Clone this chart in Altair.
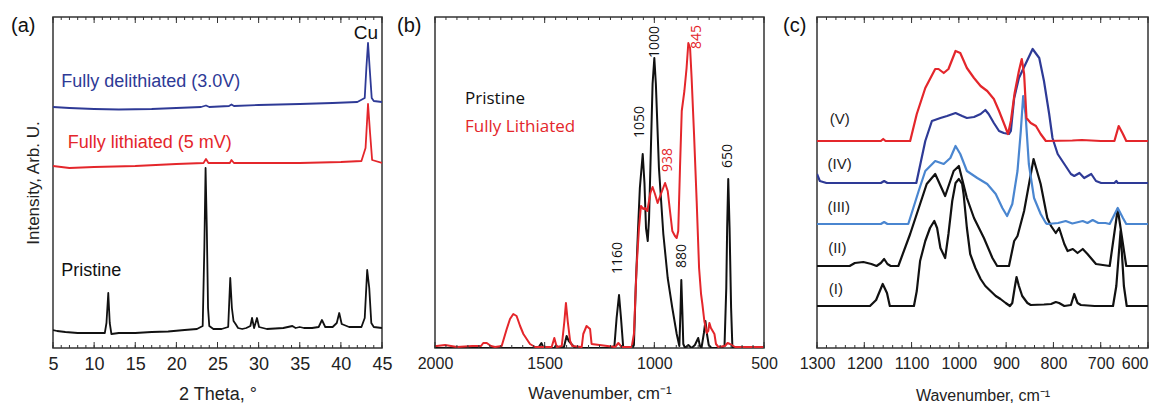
import altair as alt
import pandas as pd

FONT = "Liberation Sans, Arial, sans-serif"
FONT_B = "Open Sans, sans-serif"
BLACK = "#111111"
RED = "#e4262b"
DBLUE = "#2e3a96"
LBLUE = "#4a86d0"
FRAME = "#333333"
H = 331

# ---------------- Panel (a): XRD, 2 Theta vs intensity ----------------
A_PRISTINE = [(5.0, 18), (5.5, 17), (6.5, 16), (8, 15), (10, 15), (11.3, 15), (11.5, 25), (11.72, 55),
              (11.9, 25), (12.1, 14), (13, 15), (15, 15), (17, 16), (19, 16.5), (21, 18), (22.5, 19),
              (23.2, 22), (23.4, 100), (23.55, 180), (23.7, 120), (23.85, 40), (24.0, 22), (24.5, 19),
              (25.5, 19), (26.3, 21), (26.55, 70), (26.75, 40), (26.95, 27), (27.2, 24), (27.5, 20),
              (28, 19), (28.5, 20), (29.0, 22), (29.2, 30), (29.45, 20), (29.8, 30), (30.05, 21),
              (31, 19), (32, 19.5), (33, 20), (34.1, 22), (34.5, 20), (35, 21), (35.5, 20), (36.5, 20),
              (37.3, 21), (37.7, 28), (38.1, 21), (39, 21), (39.5, 25), (39.8, 35), (40.1, 24), (41, 21),
              (42.5, 21), (42.9, 30), (43.2, 78), (43.45, 60), (43.7, 25), (44, 21), (45, 20)]
A_LITHIATED = [(5, 182), (7, 180), (10, 181), (15, 182), (20, 184), (23.3, 185), (23.6, 189), (23.9, 185),
               (26.5, 185), (26.7, 188), (27, 185), (30, 185), (35, 185), (40, 186), (42.5, 187),
               (43.0, 200), (43.3, 244), (43.55, 215), (43.8, 188), (45, 185)]
A_DELITHIATED = [(5, 241), (7, 240), (10, 239), (13, 238.5), (17, 239), (20, 240), (23, 241), (23.6, 242.5),
                 (24, 241), (26.4, 242), (26.7, 243.5), (27, 242), (30, 243), (35, 244), (39, 245), (42, 246),
                 (42.9, 250), (43.1, 280), (43.3, 305), (43.5, 280), (43.75, 250), (44, 247), (45, 246)]
A_LABELS = [("Fully delithiated (3.0V)", 6.0, 266, DBLUE),
            ("Fully lithiated (5 mV)", 6.8, 205, RED),
            ("Pristine", 6.0, 77, BLACK)]
A_CU = [("Cu", 43.05, 315)]
A_TICKS = [5, 10, 15, 20, 25, 30, 35, 40, 45]
A_MINOR = list(range(5, 46))

# ---------------- Panel (b): IR, pristine vs lithiated ----------------
B_PRISTINE = [(2000, 0), (1700, 0), (1530, 0), (1515, 5), (1505, 0), (1455, 0), (1448, 3), (1440, 0),
              (1412, 1), (1400, 12), (1390, 7), (1378, 4), (1365, 1), (1340, 0), (1200, 0), (1182, 2),
              (1172, 30), (1161, 53), (1152, 30), (1142, 1), (1100, 0), (1093, 3), (1085, 60), (1075, 115),
              (1066, 160), (1053, 194), (1045, 165), (1038, 120), (1030, 107), (1024, 130), (1018, 180),
              (1008, 264), (1000, 290), (993, 264), (979, 180), (959, 114), (939, 70), (918, 40), (898, 14),
              (886, 2), (881, 35), (877, 68), (872, 35), (868, 4), (860, 0), (845, 3), (830, 0), (815, 3),
              (800, 10), (792, 2), (785, 0), (774, 15), (767, 27), (760, 14), (752, 3), (740, 0), (700, 0),
              (680, 2), (672, 60), (668, 120), (663, 169), (657, 120), (650, 40), (644, 0), (500, 0)]
B_LITHIATED = [(2000, 2), (1992, 2), (1954, 3), (1900, 1), (1830, 2), (1790, 2), (1780, 5), (1764, 5),
               (1745, 2), (1726, 1), (1696, 2), (1673, 19), (1658, 29), (1643, 34), (1628, 32), (1612, 22),
               (1597, 14), (1582, 9), (1567, 4), (1544, 1), (1468, 1), (1456, 10), (1445, 1), (1422, 2),
               (1410, 27), (1403, 45), (1395, 27), (1384, 7), (1374, 2), (1331, 1), (1324, 14), (1309, 22),
               (1293, 19), (1286, 4), (1179, 1), (1164, 5), (1149, 1), (1103, 1), (1093, 14), (1081, 80),
               (1070, 120), (1061, 142), (1050, 139), (1043, 140), (1032, 137), (1018, 155), (1008, 161),
               (997, 154), (985, 145), (970, 154), (951, 165), (939, 157), (927, 134), (918, 117),
               (906, 112), (898, 110), (891, 117), (883, 180), (875, 237), (863, 257), (853, 280),
               (845, 305), (837, 300), (830, 270), (819, 214), (807, 147), (796, 80), (787, 54), (781, 44),
               (772, 27), (761, 15), (754, 17), (749, 25), (742, 20), (734, 17), (726, 14), (719, 4),
               (708, 1), (678, 2), (666, 5), (655, 4), (632, 1), (500, 1)]
B_LEGEND = [("Pristine", 1863, 249, BLACK), ("Fully Lithiated", 1863, 221, RED)]
B_PEAKS = [("1000", 997, 306, BLACK), ("845", 807, 311, RED), ("1050", 1065, 226, BLACK),
           ("938", 936, 188, RED), ("1160", 1167, 90, BLACK), ("880", 875, 92, BLACK),
           ("650", 663, 192, BLACK)]
B_TICKS = [2000, 1500, 1000, 500]
B_MINOR = list(range(500, 2001, 50))

# ---------------- Panel (c): IR, stages I-V ----------------
C_I = [(1300, 42), (1188, 42), (1175, 48), (1161, 64), (1152, 55), (1146, 42), (1095, 42), (1089, 57),
       (1082, 87), (1071, 107), (1061, 120), (1052, 127), (1046, 120), (1039, 100), (1029, 90), (1022, 114),
       (1014, 147), (1007, 165), (1000, 169), (993, 164), (990, 154), (983, 120), (976, 94), (965, 80),
       (954, 69), (944, 62), (933, 57), (922, 52), (912, 49), (901, 45), (892, 42), (887, 45), (882, 60),
       (878, 71), (873, 62), (866, 52), (855, 45), (848, 43), (820, 43.5), (805, 44), (795, 46), (788, 45),
       (777, 42), (763, 43), (756, 54), (749, 45), (742, 43), (713, 42), (674, 42), (667, 62), (658, 117),
       (651, 62), (645, 42), (600, 42)]
C_II = [(1300, 82), (1231, 82), (1220, 85), (1202, 86), (1185, 84), (1174, 82), (1165, 85), (1158, 89),
        (1151, 84), (1144, 82), (1128, 82), (1103, 114), (1082, 144), (1068, 164), (1050, 174), (1029, 152),
        (1011, 177), (1000, 182), (983, 150), (968, 130), (947, 110), (929, 90), (919, 82), (894, 82),
        (883, 107), (876, 112), (862, 137), (842, 189), (827, 164), (813, 130), (805, 122), (795, 115),
        (788, 120), (777, 104), (770, 97), (759, 99), (749, 95), (738, 99), (728, 94), (710, 84), (681, 82),
        (664, 139), (646, 82), (600, 82)]
C_III = [(1300, 124), (1165, 124), (1158, 126), (1151, 124), (1107, 124), (1085, 157), (1071, 177),
         (1050, 187), (1032, 184), (1018, 190), (1007, 202), (997, 194), (983, 177), (961, 170), (940, 164),
         (922, 154), (908, 140), (898, 132), (887, 144), (876, 177), (869, 217), (864, 252), (859, 234),
         (852, 184), (841, 150), (827, 134), (816, 125), (813, 124), (790, 125), (774, 127), (760, 124.5),
         (738, 127), (728, 125), (717, 128), (705, 125), (690, 125), (681, 124), (664, 140), (653, 130),
         (646, 124), (600, 124)]
C_IV = [(1300, 174), (1294, 167), (1280, 165), (1165, 165), (1158, 167), (1151, 165), (1090, 165),
        (1071, 207), (1057, 227), (1039, 230), (1025, 232), (1007, 235), (993, 232), (983, 230), (968, 231),
        (954, 234), (944, 238), (937, 234), (926, 225), (915, 217), (905, 215), (894, 214), (890, 217),
        (883, 250), (873, 270), (859, 284), (844, 299), (830, 290), (820, 267), (809, 234), (802, 210),
        (791, 194), (777, 184), (763, 174), (756, 172), (745, 175), (735, 170), (720, 174), (710, 167),
        (699, 165), (671, 165), (667, 167), (664, 165), (600, 165)]
C_V = [(1300, 207), (1165, 207), (1160, 209), (1155, 207), (1103, 207), (1089, 234), (1071, 260),
       (1050, 279), (1043, 279), (1032, 275), (1022, 279), (1007, 297), (997, 295), (983, 280), (968, 270),
       (954, 262), (940, 257), (926, 249), (915, 237), (905, 225), (896, 214), (890, 227), (882, 255),
       (873, 277), (867, 289), (862, 274), (857, 230), (848, 225), (837, 222), (827, 214), (816, 207),
       (760, 207.5), (740, 208), (700, 207), (671, 207), (662, 222), (653, 214), (646, 207), (600, 207)]
C_LABELS = [("(V)", 1252, 229), ("(IV)", 1252, 184), ("(III)", 1254, 141), ("(II)", 1257, 100),
            ("(I)", 1260, 59)]
C_TICKS = [1300, 1200, 1100, 1000, 900, 800, 700, 600]
C_MINOR = list(range(600, 1301, 20))


def x_axis(values, title, label_size, title_size, title_pad, last_right=None):
    extra = {}
    if last_right is not None:
        extra["labelAlign"] = {"condition": {"test": "datum.value == %d" % last_right, "value": "right"},
                               "value": "center"}
    return alt.Axis(values=values, title=title, ticks=False, domain=False, grid=False, format="d",
                    labelFontSize=label_size, titleFontSize=title_size, labelPadding=7,
                    titlePadding=title_pad, labelOverlap=False, labelFlush=False,
                    labelFont=FONT, titleFont=FONT, labelColor="#222222", titleColor="#222222",
                    titleFontWeight="normal", **extra)


class Panel:
    def __init__(self, xs, xaxis, yaxis):
        self.xs = xs
        self.ys = alt.Scale(domain=[0, H], nice=False, zero=False)
        self.xaxis = xaxis
        self.yaxis = yaxis

    def X(self):
        return alt.X("x:Q", scale=self.xs, axis=self.xaxis)

    def Y(self):
        return alt.Y("y:Q", scale=self.ys, axis=self.yaxis)

    def line(self, pts, color, sw):
        df = pd.DataFrame(pts, columns=["x", "y"])
        df["o"] = range(len(df))
        return alt.Chart(df).mark_line(color=color, strokeWidth=sw, strokeJoin="round", clip=True).encode(
            x=self.X(), y=self.Y(), order="o:Q")

    def ticks(self, minor, major):
        layers = []
        for vals, ln in ((minor, 3), (major, 6)):
            base = alt.Chart(pd.DataFrame({"x": vals})).mark_rule(color=FRAME, strokeWidth=1)
            layers.append(base.encode(x=self.X(), y=alt.value(H), y2=alt.value(H - ln)))
            layers.append(base.encode(x=self.X(), y=alt.value(0), y2=alt.value(ln)))
        return layers

    def text(self, rows, font, size, color, angle=0, align="left"):
        df = pd.DataFrame(rows, columns=["t", "x", "y"])
        kw = dict(font=font, fontSize=size, color=color, align=align, baseline="middle")
        if angle:
            kw["angle"] = angle
        return alt.Chart(df).mark_text(**kw).encode(x=self.X(), y=self.Y(), text="t:N")


def panel_label(txt, dx):
    return alt.Chart(pd.DataFrame({"t": [txt]})).mark_text(
        font=FONT, fontSize=20, color=BLACK, align="left", baseline="middle"
    ).encode(x=alt.value(dx), y=alt.value(9), text="t:N")


NO_Y = alt.Axis(labels=False, ticks=False, domain=False, grid=False, title=None)

# ----- panel a -----
ya_axis = alt.Axis(title="Intensity, Arb. U.", labels=False, ticks=False, domain=False, grid=False,
                   titleFontSize=17, titlePadding=11, titleFont=FONT, titleColor="#222222",
                   titleFontWeight="normal")
A = Panel(alt.Scale(domain=[5, 45], nice=False, zero=False),
          x_axis(A_TICKS, "2 Theta, °", 18, 18, 12), ya_axis)
pa = alt.layer(
    A.line(A_PRISTINE, BLACK, 1.8),
    A.line(A_LITHIATED, RED, 1.8),
    A.line(A_DELITHIATED, DBLUE, 1.8),
    *A.ticks(A_MINOR, A_TICKS),
    *[A.text([(t, x, y)], FONT, 18, c) for t, x, y, c in A_LABELS],
    A.text(A_CU, FONT, 19, BLACK, align="center"),
    panel_label("(a)", -42),
).properties(width=329, height=H)

# ----- panel b -----
B = Panel(alt.Scale(domain=[500, 2000], reverse=True, nice=False, zero=False),
          x_axis(B_TICKS, "Wavenumber, cm\u207b\u00b9", 16, 17, 14), NO_Y)
pb = alt.layer(
    B.line(B_PRISTINE, BLACK, 2),
    B.line(B_LITHIATED, RED, 2),
    *B.ticks(B_MINOR, B_TICKS),
    *[B.text([(t, x, y)], FONT_B, 17, c) for t, x, y, c in B_LEGEND],
    *[B.text([(t, x, y)], FONT_B, 14, c, angle=270, align="center") for t, x, y, c in B_PEAKS],
    panel_label("(b)", -38),
).properties(width=329, height=H)

# ----- panel c -----
C = Panel(alt.Scale(domain=[600, 1300], reverse=True, nice=False, zero=False),
          x_axis(C_TICKS, "Wavenumber, cm\u207b\u00b9", 16, 16, 16, last_right=600), NO_Y)
pc = alt.layer(
    C.line(C_I, BLACK, 2.2),
    C.line(C_II, BLACK, 2.2),
    C.line(C_III, LBLUE, 2.2),
    C.line(C_IV, DBLUE, 2.2),
    C.line(C_V, RED, 2.2),
    *C.ticks(C_MINOR, C_TICKS),
    C.text(C_LABELS, FONT, 15, "#222222", align="center"),
    panel_label("(c)", -34),
).properties(width=331, height=H)

chart = alt.hconcat(pa, pb, pc, spacing=53, bounds="flush").properties(
    padding={"left": 2, "top": 7, "right": 0, "bottom": 0},
    background="white",
).configure_view(stroke=FRAME, strokeWidth=1.5)

chart.save("out.html", embed_options={"renderer": "svg", "actions": False})
